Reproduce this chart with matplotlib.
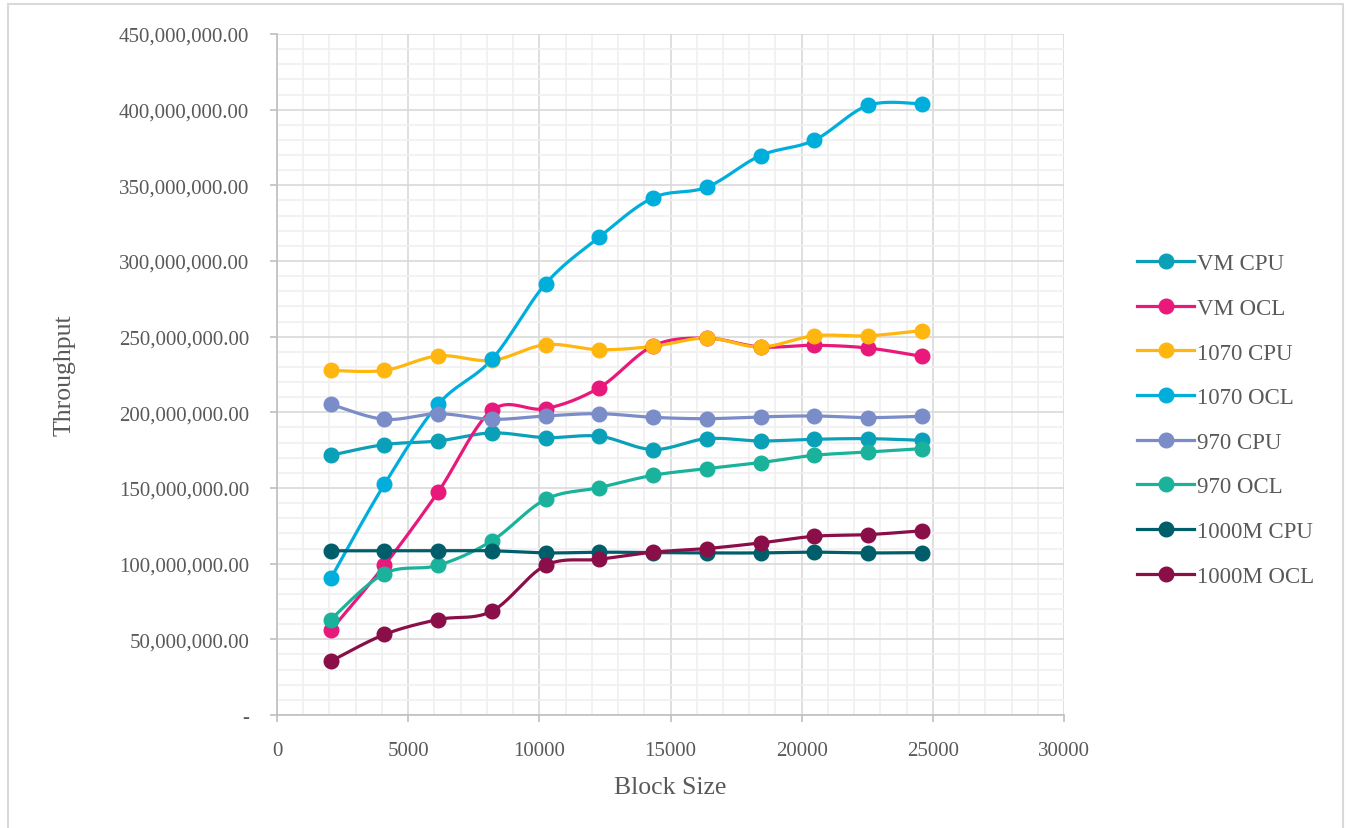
import numpy as np
import matplotlib
matplotlib.use("Agg")
import matplotlib.pyplot as plt
from matplotlib.ticker import MultipleLocator, FuncFormatter
from matplotlib.patches import Rectangle
from matplotlib.lines import Line2D

# Block sizes tested
block_sizes = [2048, 4096, 6144, 8192, 10240, 12288, 14336, 16384, 18432, 20480, 22528, 24576]

# Throughput per configuration
vm_cpu = [171.6e6, 178.7e6, 181.1e6, 186.4e6, 183.3e6, 184.2e6, 175.4e6, 182.6e6, 181.1e6, 182.2e6, 182.6e6, 181.5e6]
vm_ocl = [56.0e6, 98.9e6, 147.4e6, 201.3e6, 202.4e6, 216.3e6, 243.9e6, 249.0e6, 243.2e6, 244.3e6, 242.5e6, 237.0e6]
gtx1070_cpu = [227.7e6, 227.7e6, 237.3e6, 234.3e6, 244.7e6, 241.4e6, 243.6e6, 249.1e6, 243.2e6, 250.6e6, 250.6e6, 254.0e6]
gtx1070_ocl = [90.2e6, 152.5e6, 205.3e6, 235.0e6, 285.0e6, 315.8e6, 341.8e6, 348.8e6, 369.7e6, 379.8e6, 402.8e6, 403.9e6]
gtx970_cpu = [205.3e6, 195.4e6, 199.1e6, 195.4e6, 197.6e6, 199.1e6, 196.7e6, 195.8e6, 197.0e6, 197.6e6, 196.5e6, 197.4e6]
gtx970_ocl = [63.1e6, 93.5e6, 98.9e6, 115.1e6, 142.5e6, 150.3e6, 158.4e6, 162.8e6, 166.8e6, 171.6e6, 173.8e6, 176.0e6]
m1000_cpu = [108.5e6, 108.5e6, 108.5e6, 108.5e6, 107.1e6, 107.6e6, 107.3e6, 107.1e6, 107.1e6, 107.6e6, 107.1e6, 107.3e6]
m1000_ocl = [35.5e6, 53.2e6, 63.1e6, 68.6e6, 98.9e6, 102.9e6, 107.6e6, 110.0e6, 113.7e6, 118.1e6, 119.2e6, 121.7e6]

series_names = ["VM CPU", "VM OCL", "1070 CPU", "1070 OCL", "970 CPU", "970 OCL", "1000M CPU", "1000M OCL"]
series_values = [vm_cpu, vm_ocl, gtx1070_cpu, gtx1070_ocl, gtx970_cpu, gtx970_ocl, m1000_cpu, m1000_ocl]
series_colors = ["#0AA1B8", "#E8197B", "#FFB60F", "#00AEDC", "#7A8DC8", "#1BB29B", "#005E6B", "#8A0E47"]

x_ticks = [0, 5000, 10000, 15000, 20000, 25000, 30000]

TEXT = "#595959"
FONT = "Liberation Serif"


def smooth(xs, ys, steps=24):
    """Catmull-Rom curve through the points (same shape as a smoothed line chart)."""
    xs = np.asarray(xs, float)
    ys = np.asarray(ys, float)
    px = np.concatenate([[xs[0]], xs, [xs[-1]]])
    py = np.concatenate([[ys[0]], ys, [ys[-1]]])
    out_x, out_y = [], []
    t = np.linspace(0, 1, steps, endpoint=False)
    for i in range(1, len(px) - 2):
        p0x, p1x, p2x, p3x = px[i - 1:i + 3]
        p0y, p1y, p2y, p3y = py[i - 1:i + 3]
        c1x, c1y = p1x + (p2x - p0x) / 6, p1y + (p2y - p0y) / 6
        c2x, c2y = p2x - (p3x - p1x) / 6, p2y - (p3y - p1y) / 6
        b0 = (1 - t) ** 3
        b1 = 3 * (1 - t) ** 2 * t
        b2 = 3 * (1 - t) * t ** 2
        b3 = t ** 3
        out_x.extend(b0 * p1x + b1 * c1x + b2 * c2x + b3 * p2x)
        out_y.extend(b0 * p1y + b1 * c1y + b2 * c2y + b3 * p2y)
    out_x.append(xs[-1])
    out_y.append(ys[-1])
    return np.array(out_x), np.array(out_y)


W, H = 1349, 829
fig = plt.figure(figsize=(W / 100, H / 100), dpi=100)
fig.patch.set_facecolor("white")

# outer chart frame
fig.add_artist(Rectangle((8 / W, -0.05), (1343 - 8) / W, 1.05 - 5 / H,
                         transform=fig.transFigure, fill=False,
                         edgecolor="#D9D9D9", linewidth=1.5))

ax = fig.add_axes([277 / W, 1 - 716 / H, (1064 - 277) / W, (716 - 35) / H])
ax.set_xlim(0, 30000)
ax.set_ylim(0, 450e6)

ax.xaxis.set_major_locator(MultipleLocator(5000))
ax.xaxis.set_minor_locator(MultipleLocator(1000))
ax.yaxis.set_major_locator(MultipleLocator(50e6))
ax.yaxis.set_minor_locator(MultipleLocator(10e6))

ax.grid(which="minor", color="#F0F0F0", linewidth=1.2, zorder=0)
ax.grid(which="major", color="#D9D9D9", linewidth=1.2, zorder=0)
ax.set_axisbelow(True)

for side in ["top", "right"]:
    ax.spines[side].set_visible(False)
for side in ["left", "bottom"]:
    ax.spines[side].set_color("#BFBFBF")
    ax.spines[side].set_linewidth(1.2)

ax.tick_params(which="major", direction="out", length=5, width=1.2, color="#BFBFBF",
               labelcolor=TEXT, labelsize=15)
ax.tick_params(which="minor", length=0)
ax.tick_params(axis="x", pad=14)
ax.tick_params(axis="y", pad=15)

ax.set_xticks(x_ticks)
ax.yaxis.set_major_formatter(FuncFormatter(lambda v, p: "-" if v == 0 else f"{v:,.2f}"))
for lab in ax.get_xticklabels() + ax.get_yticklabels():
    lab.set_fontfamily(FONT)

handles = []
for name, vals, col in zip(series_names, series_values, series_colors):
    sx, sy = smooth(block_sizes, vals)
    ax.plot(sx, sy, color=col, linewidth=2.3, solid_capstyle="round", zorder=3)
    ax.plot(block_sizes, vals, linestyle="none", marker="o", markersize=10.5,
            color=col, zorder=4)
    handles.append(Line2D([], [], color=col, linewidth=2.3, marker="o", markersize=10.5))

ax.set_xlabel("Block Size", fontfamily=FONT, fontsize=18.5, color=TEXT)
ax.xaxis.set_label_coords(0.5, -0.089)
ax.set_ylabel("Throughput", fontfamily=FONT, fontsize=18.5, color=TEXT)
ax.yaxis.set_label_coords(-0.256, 0.5)

leg = fig.legend(handles, series_names, loc="upper left",
                 bbox_to_anchor=(1128 / W, 1 - 245 / H), frameon=False,
                 prop={"family": FONT, "size": 16.5}, labelcolor=TEXT,
                 handlelength=2.5, handletextpad=0.13, labelspacing=1.03,
                 borderaxespad=0)

fig.savefig("out.png", dpi=100)
